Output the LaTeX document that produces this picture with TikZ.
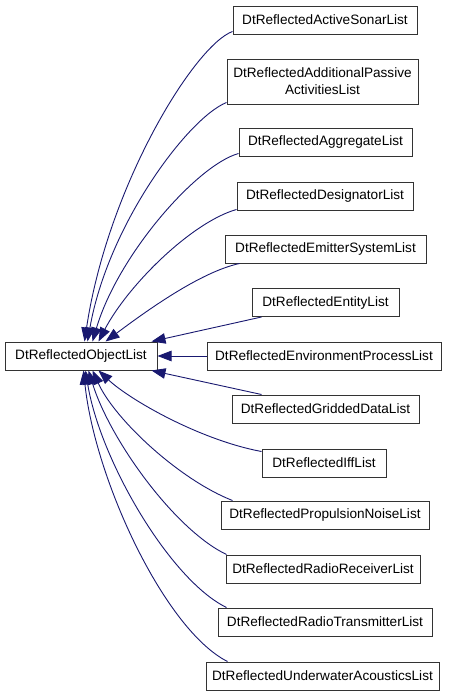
\documentclass[tikz,border=0pt]{standalone}
\usepackage{fontspec}
\setmainfont{Liberation Sans}
\usetikzlibrary{arrows.meta,calc}
\definecolor{edgeblue}{RGB}{25,25,112}
\tikzset{
  cls/.style={draw=black!80, line width=1pt, fill=white, inner sep=0pt, align=center,
    font=\fontsize{13.6}{17}\selectfont, minimum height=28pt},
  inh/.style={draw=edgeblue, line width=0.9pt, -{Triangle[length=14pt,width=10.5pt]}, fill=none},
}
\begin{document}
\begin{tikzpicture}[x=1pt,y=-1pt]
\useasboundingbox (0,0) rectangle (451,696);
\node[cls, minimum width=152pt] (root) at (81,356) {DtReflectedObjectList};
\node[cls, minimum width=184pt] (as) at (325,20) {DtReflectedActiveSonarList};
\node[cls, minimum width=191pt, minimum height=45pt] (ap) at (322.5,81.5) {DtReflectedAdditionalPassive\\ActivitiesList};
\node[cls, minimum width=173pt] (ag) at (325.5,142) {DtReflectedAggregateList};
\node[cls, minimum width=176pt] (de) at (325,196) {DtReflectedDesignatorList};
\node[cls, minimum width=201pt] (em) at (325.5,249) {DtReflectedEmitterSystemList};
\node[cls, minimum width=147pt] (en) at (325.5,302.5) {DtReflectedEntityList};
\node[cls, minimum width=234pt] (env) at (324,356) {DtReflectedEnvironmentProcessList};
\node[cls, minimum width=187pt] (gr) at (325.5,409) {DtReflectedGriddedDataList};
\node[cls, minimum width=124pt] (iff) at (324,463) {DtReflectedIffList};
\node[cls, minimum width=208pt] (pr) at (325,515) {DtReflectedPropulsionNoiseList};
\node[cls, minimum width=194pt] (rr) at (323,569) {DtReflectedRadioReceiverList};
\node[cls, minimum width=214pt] (rt) at (325,622) {DtReflectedRadioTransmitterList};
\node[cls, minimum width=233pt] (uw) at (322.5,676) {DtReflectedUnderwaterAcousticsList};

\draw[inh] ($(as.south west)+(0,-3)$) .. controls (195,45) and (108,185) .. ($(root.north west)+(80,0)$);
\draw[inh] ($(ap.south west)+(0,-2)$) .. controls (188,118) and (108,225) .. ($(root.north west)+(83,0)$);
\draw[inh] ($(ag.south west)+(0,-3)$) .. controls (197,165) and (118,255) .. ($(root.north west)+(88,0)$);
\draw[inh] ($(de.south west)+(0,-1)$) .. controls (192,222) and (128,285) .. ($(root.north west)+(94,0)$);
\draw[inh] ($(em.south west)+(15,0)$) .. controls (200,272) and (145,312) .. ($(root.north west)+(101,0)$);
\draw[inh] ($(en.south west)+(10,0)$) -- ($(root.north east)+(-6,0)$);
\draw[inh] (env.west) -- (root.east);
\draw[inh] ($(gr.north west)+(30,0)$) -- ($(root.south east)+(-6,0)$);
\draw[inh] ($(iff.north west)+(0,3)$) .. controls (200,440) and (130,400) .. ($(root.south west)+(94,0)$);
\draw[inh] ($(pr.north west)+(12,0)$) .. controls (180,480) and (115,420) .. ($(root.south west)+(88,0)$);
\draw[inh] ($(rr.north west)+(1,0)$) .. controls (175,530) and (110,440) .. ($(root.south west)+(84,0)$);
\draw[inh] ($(rt.north west)+(9,0)$) .. controls (170,580) and (100,460) .. ($(root.south west)+(81,0)$);
\draw[inh] ($(uw.north west)+(22,0)$) .. controls (165,630) and (95,480) .. ($(root.south west)+(79,0)$);
\end{tikzpicture}
\end{document}
